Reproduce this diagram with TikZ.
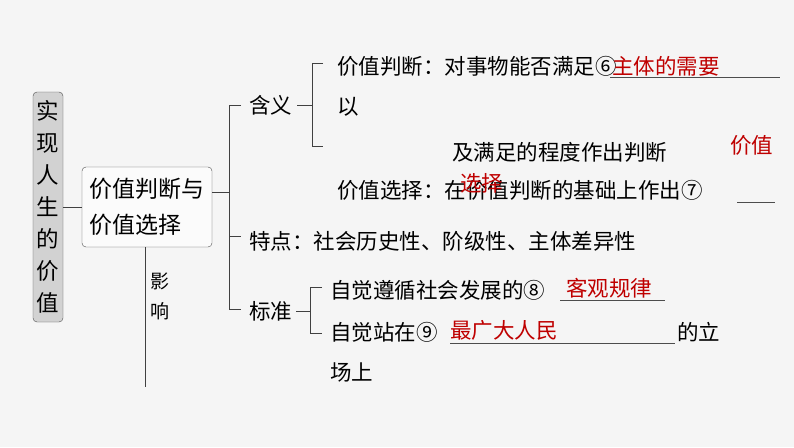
\documentclass[tikz,border=0pt]{standalone}
\usepackage{fontspec}
\setmainfont{Noto Sans CJK SC}
\begin{document}
\begin{tikzpicture}[x=1pt,y=-1pt,
  ln/.style={draw=black!75,line width=0.9pt},
  t/.style={anchor=west,inner sep=0pt,font=\fontsize{21.5}{21.5}\selectfont},
  r/.style={t,text=red!75!black},
  ul/.style={draw=black!70,line width=0.7pt}]
\fill[gray!8] (0,0) rectangle (794,447);
\useasboundingbox (0,0) rectangle (794,447);
\node[draw=black!70,fill=gray!35,rounded corners=4pt,minimum width=30pt,minimum height=230pt,inner sep=0pt,font=\fontsize{22.5}{32}\selectfont,align=center] (root) at (48,207) {实\\现\\人\\生\\的\\价\\值};
\node[draw=black!70,fill=white!60!gray!8,rounded corners=4pt,minimum width=130pt,minimum height=80pt,inner sep=0pt,font=\fontsize{23}{36}\selectfont,align=left] (b2) at (147,207) {价值判断与\\价值选择};
\draw[ln] (root.east) -- (b2.west);
\coordinate (j) at (229,192);
\draw[ln] (b2.east|-j) -- (j);
\draw[ln] (241,105) -- (229,105) -- (229,309) -- (241,309);
\draw[ln] (229,236) -- (241,236);
\node[t] (hy) at (249,105) {含义};
\node[t] (td) at (249,241) {特点：社会历史性、阶级性、主体差异性};
\node[t] (bz) at (249,311) {标准};
\draw[ln] (b2.south-|145,0) -- (145,387);
\node[t,font=\fontsize{19}{30}\selectfont,align=left] (yx) at (150,296) {影\\响};
\draw[ln] (hy.east)++(5,0) -- (312,105);
\draw[ln] (323,63) -- (312,63) -- (312,146) -- (323,146);
\node[t] (a1) at (337,66) {价值判断：对事物能否满足⑥};
\node[r] (a1r) at (612,66) {主体的需要};
\draw[ul] (610,77) -- (780,77);
\node[t] (a2) at (337,107) {以};
\node[t] (a3) at (452,152) {及满足的程度作出判断};
\node[r] (a3r) at (730,145) {价值};
\node[t] (a4) at (337,190) {价值选择：在价值判断的基础上作出⑦};
\draw[ul] (737,202) -- (775,202);
\node[r] (a4r) at (460,183) {选择};
\draw[ln] (bz.east)++(4,0) -- (310,311);
\draw[ln] (322,287) -- (310,287) -- (310,333) -- (322,333);
\node[t] (c1) at (330,290) {自觉遵循社会发展的⑧};
\node[r] (c1r) at (566,288) {客观规律};
\draw[ul] (560,300) -- (665,300);
\node[t] (c2) at (330,332) {自觉站在⑨};
\node[r] (c2r) at (450,330) {最广大人民};
\draw[ul] (450,343) -- (675,343);
\node[t] (c3) at (677,332) {的立};
\node[t] (c4) at (330,372) {场上};
\end{tikzpicture}
\end{document}
